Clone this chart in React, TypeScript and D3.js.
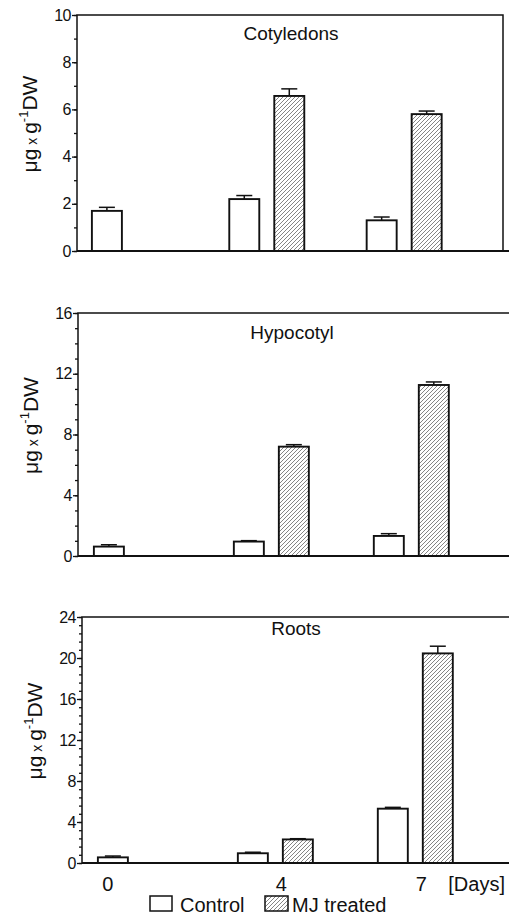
import React, { useEffect, useRef } from 'react';
import * as d3 from 'd3';

const days = ['0', '4', '7'];
const series = ['Control', 'MJ treated'];
const panelTitles = ['Cotyledons', 'Hypocotyl', 'Roots'];

// values (µg g-1 DW), null = no bar
const cotControl = [1.7, 2.2, 1.3];
const cotControlErr = [0.15, 0.15, 0.14];
const cotMJ = [null, 6.57, 5.8];
const cotMJErr = [null, 0.3, 0.13];

const hypControl = [0.62, 0.95, 1.32];
const hypControlErr = [0.12, 0.06, 0.15];
const hypMJ = [null, 7.2, 11.26];
const hypMJErr = [null, 0.13, 0.2];

const rootControl = [0.55, 0.95, 5.3];
const rootControlErr = [0.13, 0.1, 0.13];
const rootMJ = [null, 2.3, 20.45];
const rootMJErr = [null, 0.07, 0.7];

const yMax = [10, 16, 24];
const majorStep = [2, 4, 4];
const minorStep = [1, 1, 0.8];

const FONT = '"Liberation Sans", Arial, Helvetica, sans-serif';

// panel frames in page pixels; only the first one is closed on the right
const frames = [
  { left: 77, top: 15, width: 426, height: 236, titleY: 25, closed: true },
  { left: 78, top: 313, width: 434, height: 243, titleY: 26, closed: false },
  { left: 82, top: 617, width: 434, height: 246, titleY: 18, closed: false },
];

const values = [
  [cotControl, cotMJ],
  [hypControl, hypMJ],
  [rootControl, rootMJ],
];
const errors = [
  [cotControlErr, cotMJErr],
  [hypControlErr, hypMJErr],
  [rootControlErr, rootMJErr],
];

const ticksBy = (max, step) => d3.range(0, Math.round(max / step) + 1).map((i) => +(i * step).toFixed(3));

const YAxis = ({ y, i }) => {
  const ref = useRef(null);
  useEffect(() => {
    const g = d3.select(ref.current);
    g.selectAll('*').remove();
    const minor = d3.axisLeft(y).tickValues(ticksBy(yMax[i], minorStep[i])).tickSize(3).tickSizeOuter(0).tickFormat(() => '');
    const major = d3.axisLeft(y).tickValues(ticksBy(yMax[i], majorStep[i])).tickSize(5).tickSizeOuter(0).tickPadding(1);
    g.append('g').call(minor);
    g.append('g').call(major);
    g.selectAll('path.domain').remove();
    g.selectAll('line').attr('stroke', '#111').attr('stroke-width', 1.3);
    g.selectAll('text')
      .attr('font-family', FONT)
      .attr('font-size', 16)
      .attr('fill', '#111')
      .attr('letter-spacing', -0.5);
  }, [y, i]);
  return <g ref={ref} />;
};

const Panel = ({ i }) => {
  const f = frames[i];
  const y = d3.scaleLinear().domain([0, yMax[i]]).range([f.height, 0]);
  const x = d3.scalePoint().domain(days).range([f.width * 0.123, f.width * 0.768]);
  const xs = d3.scaleBand().domain(series).range([-37.5, 37.5]).paddingInner(1 / 3);
  const bw = xs.bandwidth();
  const frame = f.closed
    ? `M0,${f.height}V0H${f.width}V${f.height}`
    : `M0,${f.height}V0H${f.width + 20}`;

  return (
    <g transform={`translate(${f.left},${f.top})`}>
      {series.map((s, si) =>
        days.map((d, di) => {
          const v = values[i][si][di];
          if (v == null) return null;
          const e = errors[i][si][di];
          const bx = x(d) + xs(s);
          const cx = bx + bw / 2;
          return (
            <g key={s + d}>
              <line x1={cx} x2={cx} y1={y(v)} y2={y(v + e)} stroke="#111" strokeWidth={1.5} />
              <line x1={cx - 8} x2={cx + 8} y1={y(v + e)} y2={y(v + e)} stroke="#111" strokeWidth={1.5} />
              <rect
                x={bx}
                y={y(v)}
                width={bw}
                height={f.height - y(v)}
                fill={si === 0 ? '#fff' : 'url(#hatch)'}
                stroke="#111"
                strokeWidth={1.9}
              />
            </g>
          );
        })
      )}
      <path d={frame} fill="none" stroke="#111" strokeWidth={1.5} />
      <line x1={0} x2={f.width + 20} y1={f.height} y2={f.height} stroke="#111" strokeWidth={2} />
      <YAxis y={y} i={i} />
      <text x={214} y={f.titleY} textAnchor="middle" fontFamily={FONT} fontSize={19} fill="#111">
        {panelTitles[i]}
      </text>
      <text
        transform={`translate(-40,${f.height / 2 - 9}) rotate(-90)`}
        textAnchor="middle"
        fontFamily={FONT}
        fontSize={21}
        fill="#111"
      >
        μg<tspan fontSize={14}> x </tspan>g<tspan fontSize={13} dy={-9}>-1</tspan>
        <tspan dy={9}>DW</tspan>
      </text>
    </g>
  );
};

const App = () => {
  const f = frames[2];
  const x = d3.scalePoint().domain(days).range([f.width * 0.123, f.width * 0.768]);
  const xs = d3.scaleBand().domain(series).range([-37.5, 37.5]).paddingInner(1 / 3);
  const labelX = days.map((d, di) =>
    rootMJ[di] == null ? f.left + x(d) + xs('Control') + xs.bandwidth() / 2 - 5 : f.left + x(d) + 6
  );
  const baseY = 891;

  return (
    <svg
      width={509}
      height={915}
      style={{ position: 'absolute', left: 0, top: 0, background: '#fff', overflow: 'hidden' }}
    >
      <defs>
        <pattern id="hatch" patternUnits="userSpaceOnUse" width={4} height={4}>
          <rect width={4} height={4} fill="#fff" />
          <path d="M-1,1 l2,-2 M0,4 l4,-4 M3,5 l2,-2" stroke="#777" strokeWidth={0.9} />
        </pattern>
      </defs>
      {panelTitles.map((t, i) => (
        <Panel key={t} i={i} />
      ))}
      {days.map((d, di) => (
        <text key={d} x={labelX[di]} y={baseY} textAnchor="middle" fontFamily={FONT} fontSize={20} fill="#111">
          {d}
        </text>
      ))}
      <text x={labelX[2] + 27} y={baseY} fontFamily={FONT} fontSize={20} fill="#111">
        [Days]
      </text>
      <g fontFamily={FONT} fontSize={20} fill="#111">
        <rect x={150} y={896} width={22} height={15} fill="#fff" stroke="#111" strokeWidth={1.5} />
        <text x={180} y={912}>{series[0]}</text>
        <rect x={265} y={896} width={23} height={15} fill="url(#hatch)" stroke="#111" strokeWidth={1.5} />
        <text x={292} y={912}>{series[1]}</text>
      </g>
    </svg>
  );
};

export default App;
